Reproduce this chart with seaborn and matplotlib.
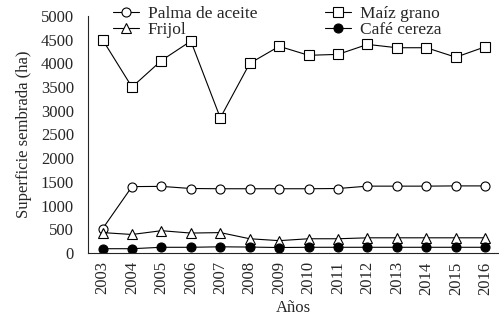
import numpy as np
import pandas as pd
import matplotlib
matplotlib.use('Agg')
import matplotlib.pyplot as plt
import seaborn as sns

years = list(range(2003, 2017))
palma = [510, 1400, 1405, 1360, 1355, 1355, 1355, 1355, 1360, 1410, 1410, 1410, 1415, 1415]
maiz = [4500, 3500, 4060, 4470, 2850, 4000, 4360, 4170, 4190, 4400, 4330, 4330, 4130, 4350]
frijol = [430, 390, 470, 420, 430, 300, 260, 300, 300, 320, 320, 320, 320, 320]
cafe = [90, 90, 120, 120, 130, 125, 115, 120, 120, 120, 120, 120, 120, 120]
series = ['Palma de aceite', 'Frijol', 'Maíz grano', 'Café cereza']

df = pd.DataFrame({
    'year': years * 4,
    'value': palma + frijol + maiz + cafe,
    'serie': [s for s in series for _ in years],
})

sns.set_style('ticks')
plt.rcParams['font.family'] = ['Liberation Serif', 'DejaVu Serif']

fig, ax = plt.subplots(figsize=(4.99, 3.26), dpi=100)
fig.subplots_adjust(left=0.176, right=0.999, bottom=0.224, top=0.951)

markers = {'Palma de aceite': 'o', 'Frijol': '^', 'Maíz grano': 's', 'Café cereza': 'o'}
faces = {'Palma de aceite': 'white', 'Frijol': 'white', 'Maíz grano': 'white', 'Café cereza': 'black'}
for s in series:
    sub = df[df['serie'] == s]
    sns.lineplot(data=sub, x='year', y='value', ax=ax, color='black', lw=0.8,
                 marker=markers[s], markersize=6.5, markerfacecolor=faces[s],
                 markeredgecolor='black', markeredgewidth=0.8, label=s)

ax.set_xlim(2002.5, 2016.45)
ax.set_ylim(0, 5000)
ax.set_xticks(years)
ax.set_xticklabels([str(y) for y in years], rotation=90, fontsize=12)
ax.set_yticks(np.arange(0, 5001, 500))
ax.tick_params(axis='y', labelsize=12, length=0, pad=10)
ax.tick_params(axis='x', length=0, pad=6)
sns.despine(ax=ax)
ax.set_xlabel('Años', fontsize=12)
ax.set_ylabel('Superficie sembrada (ha)', fontsize=12, labelpad=6)

ax.legend(ncol=2, loc='upper left', bbox_to_anchor=(0.04, 1.08), frameon=False,
          fontsize=12.5, handlelength=1.5, handletextpad=0.5, columnspacing=3.9,
          labelspacing=0.0, borderpad=0)

fig.savefig('out.png', dpi=100)
